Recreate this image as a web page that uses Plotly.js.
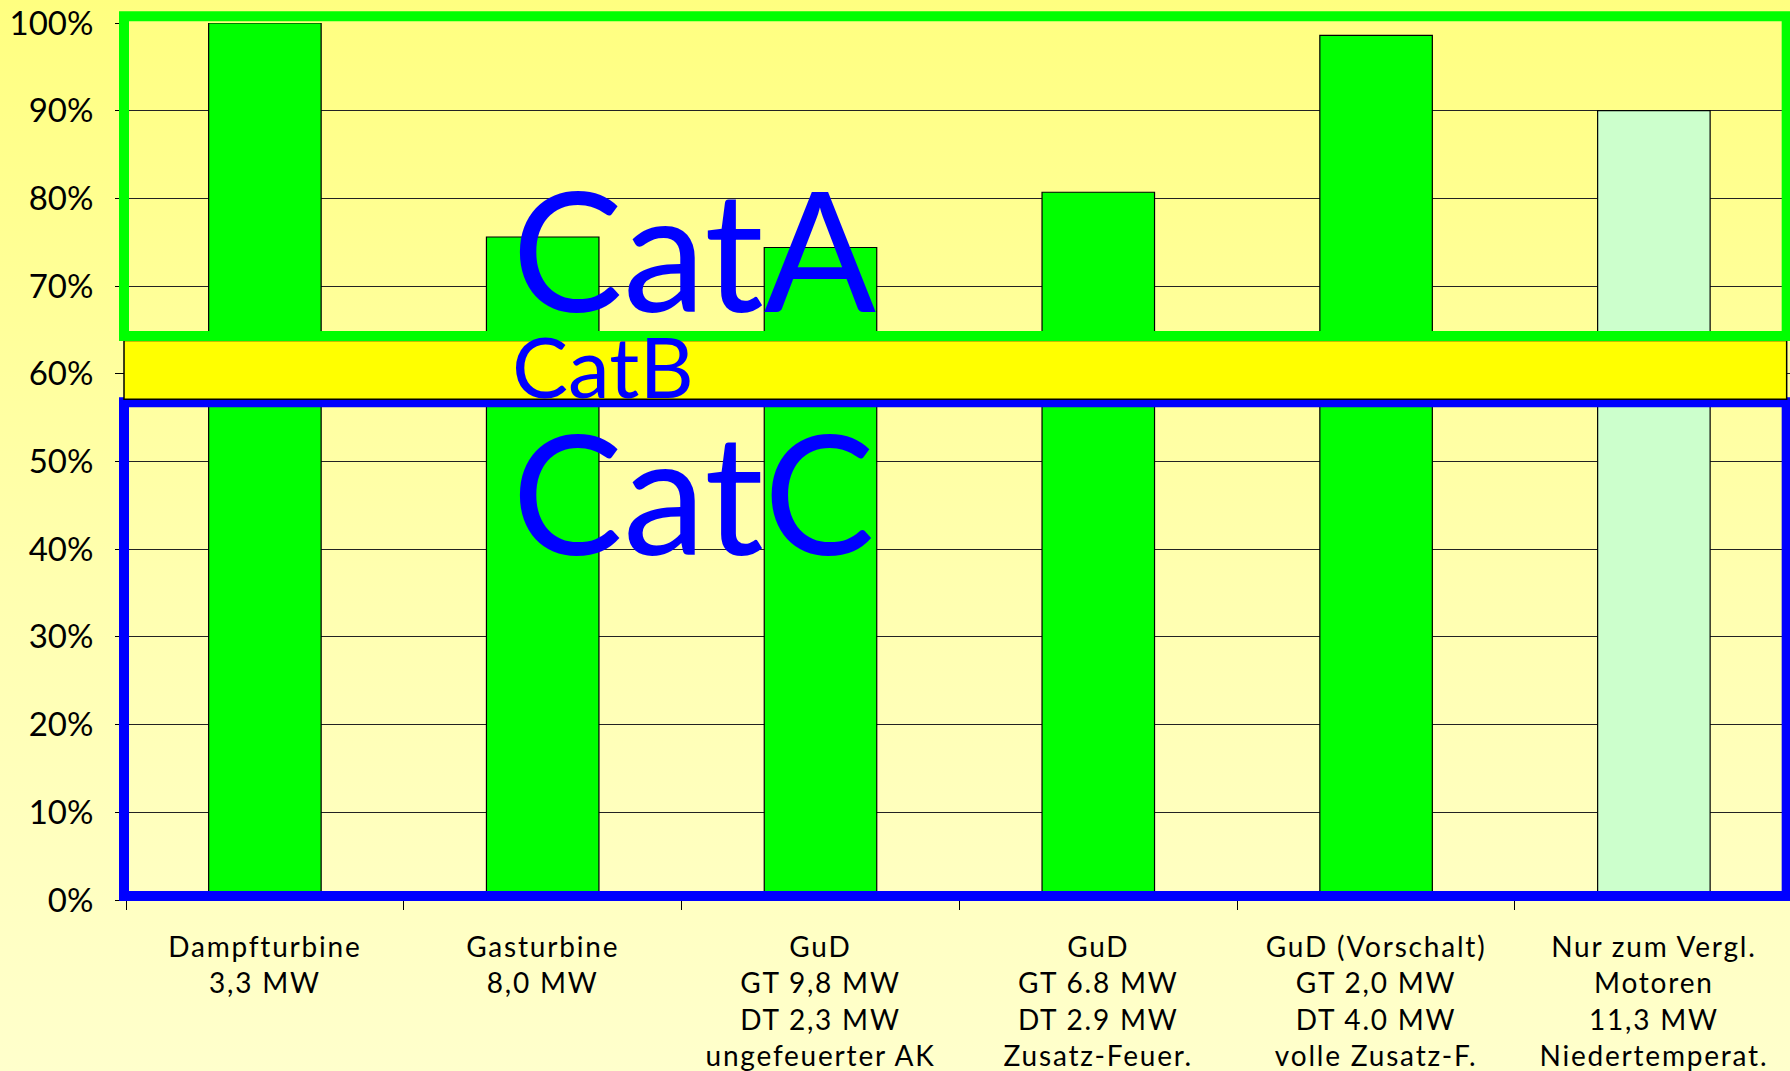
<!DOCTYPE html>
<html>
<head>
<meta charset="utf-8">
<script src="https://cdn.plot.ly/plotly-3.0.1.min.js"></script>
<style>
html, body { margin: 0; padding: 0; overflow: hidden; width: 1790px; height: 1071px; }
body { background: linear-gradient(to bottom, #ffff80 0%, #ffffb0 55%, #ffffcc 100%); }
#chart { width: 1790px; height: 1071px; }
.xtick text { letter-spacing: 1.8px; }
</style>
</head>
<body>
<div id="chart"></div>
<script>
const categories = [
  "Dampfturbine<br>3,3 MW",
  "Gasturbine<br>8,0 MW",
  "GuD<br>GT 9,8 MW<br>DT 2,3 MW<br>ungefeuerter AK",
  "GuD<br>GT 6.8 MW<br>DT 2.9 MW<br>Zusatz-Feuer.",
  "GuD (Vorschalt)<br>GT 2,0 MW<br>DT 4.0 MW<br>volle Zusatz-F.",
  "Nur zum Vergl.<br>Motoren<br>11,3 MW<br>Niedertemperat."
];
const values = [1.0, 0.756, 0.744, 0.807, 0.986, 0.90];
const barColors = ["#00ff00", "#00ff00", "#00ff00", "#00ff00", "#00ff00", "#ccffcc"];
const yTicks = [0, 0.1, 0.2, 0.3, 0.4, 0.5, 0.6, 0.7, 0.8, 0.9, 1.0];
const bandLabels = ["CatA", "CatB", "CatC"];

const FONT = "Lato, 'Open Sans', sans-serif";

const trace = {
  type: "bar",
  x: categories,
  y: values,
  width: 0.405,
  marker: { color: barColors, line: { color: "#000000", width: 1.2 } },
  hoverinfo: "x+y"
};

const layout = {
  width: 1790,
  height: 1071,
  margin: { l: 126, r: 0, t: 23, b: 171, pad: 0 },
  paper_bgcolor: "rgba(0,0,0,0)",
  plot_bgcolor: "rgba(0,0,0,0)",
  showlegend: false,
  font: { family: FONT, color: "#000000" },
  xaxis: {
    type: "category",
    range: [-0.5, 5.49],
    ticks: "outside",
    tickson: "boundaries",
    ticklen: 9,
    tickcolor: "#000000",
    tickwidth: 1,
    showgrid: false,
    showline: false,
    zeroline: false,
    tickfont: { family: FONT, size: 28, color: "#000000" },
    ticklabelstandoff: 28,
    fixedrange: true
  },
  yaxis: {
    range: [0, 1.0],
    tickvals: yTicks,
    tickformat: ".0%",
    ticks: "outside",
    ticklen: 10,
    tickcolor: "#000000",
    showgrid: true,
    gridcolor: "#222222",
    gridwidth: 1,
    zeroline: false,
    showline: false,
    tickfont: { family: FONT, size: 33, color: "#000000" },
    ticklabelstandoff: 15,
    fixedrange: true
  },
  shapes: [
    { type: "rect", xref: "paper", yref: "paper", layer: "above",
      x0: -0.0012, x1: 0.998, y0: 0.0046, y1: 0.5677,
      line: { color: "#0000ff", width: 10 }, fillcolor: "rgba(0,0,0,0)" },
    { type: "rect", xref: "paper", yref: "paper", layer: "above",
      x0: -0.0012, x1: 0.998, y0: 0.571, y1: 0.638,
      line: { color: "#000000", width: 1.5 }, fillcolor: "#ffff00" },
    { type: "rect", xref: "paper", yref: "paper", layer: "above",
      x0: -0.0012, x1: 0.998, y0: 0.643, y1: 1.0076,
      line: { color: "#00ff00", width: 10 }, fillcolor: "rgba(0,0,0,0)" }
  ],
  annotations: [
    { text: bandLabels[0], xref: "paper", yref: "paper", x: 0.2305, y: 0.744, xanchor: "left", yanchor: "middle",
      showarrow: false, font: { family: FONT, size: 166, color: "#0000ff" } },
    { text: bandLabels[1], xref: "paper", yref: "paper", x: 0.2305, y: 0.609, xanchor: "left", yanchor: "middle",
      showarrow: false, font: { family: FONT, size: 84, color: "#0000ff" } },
    { text: bandLabels[2], xref: "paper", yref: "paper", x: 0.2305, y: 0.467, xanchor: "left", yanchor: "middle",
      showarrow: false, font: { family: FONT, size: 166, color: "#0000ff" } }
  ]
};

Plotly.newPlot("chart", [trace], layout, { displayModeBar: false, staticPlot: true });
</script>
</body>
</html>
